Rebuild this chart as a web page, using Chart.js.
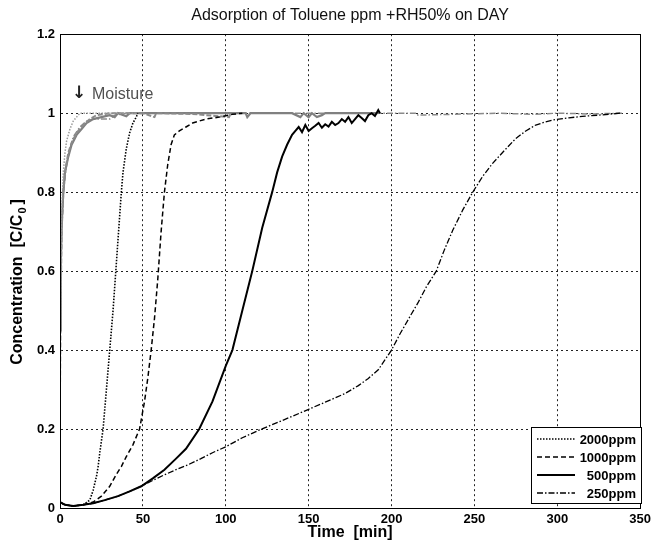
<!DOCTYPE html>
<html>
<head>
<meta charset="utf-8">
<script src="https://cdn.jsdelivr.net/npm/chart.js@4/dist/chart.umd.min.js"></script>
<style>
  html, body { margin: 0; padding: 0; background: #fff; }
  #wrap { width: 655px; height: 545px; }
</style>
</head>
<body>
<div id="wrap"><canvas id="myChart" width="655" height="545"></canvas></div>
<script>
'use strict';

// toluene breakthrough curves (black)
const time2000 = [0, 3, 8, 14, 18, 20, 22, 23, 24, 26, 28, 30, 32, 34, 36, 37, 38, 40, 42, 44, 46, 47];
const conc2000 = [0.015, 0.008, 0.005, 0.008, 0.02, 0.045, 0.08, 0.105, 0.14, 0.2, 0.3, 0.4, 0.5, 0.62, 0.74, 0.8, 0.85, 0.91, 0.95, 0.975, 0.99, 1.0];

const time1000 = [0, 3, 8, 14, 20, 25, 30, 34, 37, 40, 44, 48, 51, 53, 55, 57, 59, 61, 63, 65, 67, 69, 72, 76, 80, 88, 96, 104, 110];
const conc1000 = [0.015, 0.008, 0.005, 0.008, 0.015, 0.03, 0.055, 0.085, 0.105, 0.13, 0.16, 0.2, 0.27, 0.33, 0.4, 0.48, 0.58, 0.7, 0.8, 0.87, 0.92, 0.945, 0.955, 0.965, 0.975, 0.985, 0.99, 0.997, 1.0];

const time500 = [0, 3, 8, 14, 20, 27, 35, 42, 49, 56, 63, 70, 76, 84, 92, 100, 104, 110, 116, 122, 128, 131, 134, 137, 140, 142, 144, 146, 148, 150, 152, 154, 156, 158, 160, 162, 164, 166, 168, 170, 172, 174, 176, 178, 180, 182, 184, 186, 188, 190, 192, 193];
const conc500 = [0.015, 0.008, 0.005, 0.008, 0.012, 0.02, 0.03, 0.042, 0.055, 0.075, 0.097, 0.125, 0.15, 0.2, 0.27, 0.36, 0.4, 0.5, 0.6, 0.71, 0.8, 0.85, 0.89, 0.92, 0.945, 0.955, 0.965, 0.952, 0.97, 0.955, 0.962, 0.968, 0.975, 0.963, 0.972, 0.966, 0.978, 0.97, 0.975, 0.985, 0.978, 0.99, 0.975, 0.985, 0.995, 0.988, 0.98, 0.995, 1.0, 0.993, 1.008, 1.0];

const time250 = [0, 3, 8, 14, 20, 27, 35, 42, 49, 56, 63, 70, 77, 85, 92, 100, 110, 120, 132, 140, 150, 160, 172, 180, 186, 192, 196, 200, 205, 211, 216, 221, 227, 232, 237, 243, 249, 255, 261, 268, 275, 281, 287, 293, 299, 307, 315, 325, 333, 338];
const conc250 = [0.015, 0.008, 0.005, 0.008, 0.012, 0.02, 0.03, 0.042, 0.055, 0.07, 0.084, 0.097, 0.109, 0.125, 0.14, 0.155, 0.178, 0.197, 0.218, 0.232, 0.25, 0.268, 0.29, 0.31, 0.328, 0.35, 0.375, 0.4, 0.44, 0.484, 0.52, 0.56, 0.6, 0.655, 0.704, 0.755, 0.8, 0.84, 0.873, 0.905, 0.936, 0.955, 0.97, 0.978, 0.984, 0.988, 0.992, 0.995, 0.998, 1.0];

// moisture curves (gray)
const timeW2000 = [0, 0.5, 1, 2, 3, 4, 6, 8, 10, 12, 20, 30, 40, 48];
const concW2000 = [0.35, 0.6, 0.75, 0.85, 0.9, 0.93, 0.96, 0.98, 0.99, 1.0, 1.0, 1.0, 1.0, 1.0];

const timeW1000 = [0, 0.5, 1, 2, 3, 5, 7, 10, 14, 18, 22, 30, 50, 57, 58, 80, 102, 103, 110];
const concW1000 = [0.3, 0.55, 0.7, 0.8, 0.85, 0.9, 0.925, 0.95, 0.97, 0.985, 0.995, 1.0, 1.0, 0.99, 1.0, 0.998, 0.99, 1.0, 1.0];

const timeW500 = [0, 0.5, 1, 2, 3, 5, 7, 10, 13, 16, 20, 25, 30, 33, 35, 40, 42, 45, 100, 112, 113, 115, 140, 145, 147, 150, 152, 155, 158, 160, 192];
const concW500 = [0.45, 0.62, 0.72, 0.8, 0.85, 0.89, 0.92, 0.945, 0.96, 0.975, 0.985, 0.99, 0.995, 0.99, 1.0, 0.992, 1.0, 1.0, 1.0, 1.0, 0.99, 1.0, 1.0, 0.99, 1.0, 0.99, 1.0, 0.99, 0.995, 1.0, 1.0];

const timeW250 = [0, 1, 2, 4, 6, 8, 12, 16, 20, 25, 30, 33, 40, 100, 200, 215, 216, 265, 285, 300, 320, 340];
const concW250 = [0.45, 0.7, 0.8, 0.87, 0.91, 0.94, 0.965, 0.98, 0.985, 0.985, 0.985, 0.995, 1.0, 1.0, 1.0, 1.0, 0.995, 1.0, 0.997, 1.0, 0.998, 1.0];

const yTicks = [0, 0.2, 0.4, 0.6, 0.8, 1, 1.2];
const xTicks = [0, 50, 100, 150, 200, 250, 300, 350];

const pts = (t, c) => t.map((v, i) => ({x: v, y: c[i]}));

const tickFont = {family: "'Liberation Sans', Arial", size: 13, weight: 'bold'};

function series(label, t, c, color, dash, width, order, inLegend) {
  return {
    label: label,
    data: pts(t, c),
    borderColor: color,
    borderDash: dash,
    borderWidth: width,
    showLine: true,
    pointRadius: 0,
    tension: 0,
    order: order,
    inLegend: inLegend
  };
}

const framePlugin = {
  id: 'frame',
  afterDatasetsDraw(chart) {
    const a = chart.chartArea;
    const ctx = chart.ctx;
    ctx.save();
    ctx.strokeStyle = '#000';
    ctx.lineWidth = 1;
    ctx.setLineDash([]);
    ctx.strokeRect(Math.round(a.left) + 0.5, Math.round(a.top) + 0.5, Math.round(a.right - a.left), Math.round(a.bottom - a.top));
    ctx.restore();
  }
};

const notesPlugin = {
  id: 'notes',
  afterDraw(chart) {
    const ctx = chart.ctx;
    ctx.save();
    // y axis title with subscript
    ctx.translate(18, 282);
    ctx.rotate(-Math.PI / 2);
    ctx.fillStyle = '#000';
    ctx.textBaseline = 'middle';
    const main = 'Concentration  [C/C';
    ctx.font = "bold 16px 'Liberation Sans', Arial";
    const w1 = ctx.measureText(main).width;
    ctx.font = "bold 11px 'Liberation Sans', Arial";
    const w2 = ctx.measureText('0').width;
    ctx.font = "bold 16px 'Liberation Sans', Arial";
    const w3 = ctx.measureText(']').width;
    const x0 = -(w1 + w2 + w3 + 4) / 2;
    ctx.textAlign = 'left';
    ctx.fillText(main, x0, 0);
    ctx.font = "bold 11px 'Liberation Sans', Arial";
    ctx.fillText('0', x0 + w1 + 1, 5);
    ctx.font = "bold 16px 'Liberation Sans', Arial";
    ctx.fillText(']', x0 + w1 + w2 + 4, 0);
    ctx.restore();

    // moisture note
    ctx.save();
    ctx.font = "bold 17px 'DejaVu Sans', sans-serif";
    ctx.fillStyle = '#222';
    ctx.textBaseline = 'middle';
    ctx.fillText('\u2193', 72, 94);
    ctx.font = "16px 'Liberation Sans', Arial";
    ctx.fillStyle = '#505050';
    ctx.fillText('Moisture', 92, 95);
    ctx.restore();

    // legend box
    const items = chart.data.datasets.filter(d => d.inLegend);
    const bx = 531, by = 427, bw = 110, bh = 76;
    ctx.save();
    ctx.fillStyle = '#fff';
    ctx.fillRect(bx, by, bw, bh);
    ctx.strokeStyle = '#000';
    ctx.lineWidth = 1;
    ctx.strokeRect(bx + 0.5, by + 0.5, bw, bh);
    items.forEach((d, i) => {
      const yy = by + 12 + i * 18;
      ctx.beginPath();
      ctx.setLineDash(d.borderDash);
      ctx.lineWidth = d.borderWidth;
      ctx.strokeStyle = d.borderColor;
      ctx.moveTo(bx + 6, yy);
      ctx.lineTo(bx + 44, yy);
      ctx.stroke();
      ctx.setLineDash([]);
      ctx.font = "bold 13px 'Liberation Sans', Arial";
      ctx.fillStyle = '#000';
      ctx.textAlign = 'right';
      ctx.textBaseline = 'middle';
      ctx.fillText(d.label, bx + bw - 5, yy + 1);
    });
    ctx.restore();
  }
};

const ctx = document.getElementById('myChart');

new Chart(ctx, {
  type: 'scatter',
  data: {
    datasets: [
      series('2000ppm', time2000, conc2000, '#000', [1.5, 1.5], 1.6, 1, true),
      series('1000ppm', time1000, conc1000, '#000', [5, 3], 1.5, 2, true),
      series('500ppm', time500, conc500, '#000', [], 2, 3, true),
      series('250ppm', time250, conc250, '#000', [6, 2, 1.5, 2], 1.3, 4, true),
      series('Moisture 2000ppm', timeW2000, concW2000, '#9a9a9a', [1.5, 1.5], 1.5, 5, false),
      series('Moisture 1000ppm', timeW1000, concW1000, '#8a8a8a', [5, 2], 2, 6, false),
      series('Moisture 500ppm', timeW500, concW500, '#808080', [], 2.2, 7, false),
      series('Moisture 250ppm', timeW250, concW250, '#8a8a8a', [6, 2, 1.5, 2], 1.5, 8, false)
    ]
  },
  options: {
    responsive: false,
    animation: false,
    layout: {
      padding: {left: 0, right: 2, top: 0, bottom: 0}
    },
    scales: {
      x: {
        type: 'linear',
        min: 0,
        max: 350,
        afterBuildTicks: (scale) => { scale.ticks = xTicks.map(v => ({value: v})); },
        afterFit: (scale) => { scale.height = 37; },
        grid: {
          color: '#222',
          lineWidth: 1,
          drawTicks: false
        },
        border: {display: true, color: '#000', dash: [2, 3]},
        ticks: {
          padding: 4,
          color: '#000',
          font: tickFont,
          maxRotation: 0
        },
        title: {
          display: true,
          text: 'Time  [min]',
          color: '#000',
          font: {family: "'Liberation Sans', Arial", size: 16, weight: 'bold'},
          padding: {top: 0, bottom: 3}
        }
      },
      y: {
        min: 0,
        max: 1.2,
        afterBuildTicks: (scale) => { scale.ticks = yTicks.map(v => ({value: v})); },
        afterFit: (scale) => { scale.width = 60; },
        grid: {
          color: '#222',
          lineWidth: 1,
          drawTicks: false
        },
        border: {display: true, color: '#000', dash: [2, 3]},
        ticks: {
          padding: 5,
          color: '#000',
          font: tickFont,
          callback: (v) => String(Number(v.toFixed(1)))
        }
      }
    },
    plugins: {
      legend: {display: false},
      tooltip: {enabled: false},
      title: {
        display: true,
        fullSize: false,
        text: 'Adsorption of Toluene ppm +RH50% on DAY',
        color: '#111',
        font: {family: "'Liberation Sans', Arial", size: 16, weight: 'normal'},
        padding: {top: 6, bottom: 9}
      }
    }
  },
  plugins: [framePlugin, notesPlugin]
});
</script>
</body>
</html>
